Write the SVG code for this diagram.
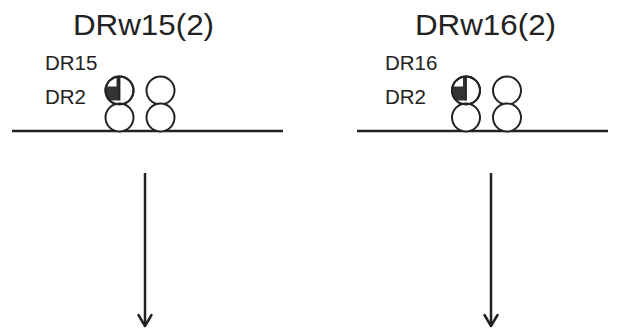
<svg xmlns="http://www.w3.org/2000/svg" width="620" height="331" viewBox="0 0 620 331">
  <style>
    .title { font-family: "Liberation Sans", Arial, sans-serif; font-size: 30px; fill: #222; }
    .label { font-family: "Liberation Sans", Arial, sans-serif; font-size: 20.5px; fill: #222; }
    .base { stroke: #222; stroke-width: 2.5; fill: none; }
    .allele { stroke: #222; stroke-width: 2; fill: #fff; }
    .mark { fill: #333; stroke: none; }
    .divider { stroke: #222; stroke-width: 1.8; }
    .conn { stroke: #222; stroke-width: 2.5; fill: none; }
    .head { stroke: #222; stroke-width: 2.5; fill: none; stroke-linecap: round; stroke-linejoin: round; }
  </style>
  <defs>
    <!-- one chromosome pair: two stacked circles, top-left one partly shaded -->
    <g id="pair">
      <circle class="allele" cx="0" cy="-13.5" r="14"/>
      <circle class="allele" cx="0" cy="13.5" r="14"/>
      <path class="mark" d="M0,-27.5 L0,-3.5 L-9.8,-3.5 A14,14 0 0 1 -13.4,-17.5 L-3,-17.5 L-3,-27.2 A14,14 0 0 1 0,-27.5 Z"/>
      <line class="divider" x1="0" y1="-27.5" x2="0" y2="-3.5"/>
      <circle cx="0" cy="-13.5" r="14" fill="none" stroke="#222" stroke-width="2"/>
      <circle class="allele" cx="41" cy="-13.5" r="14"/>
      <circle class="allele" cx="41" cy="13.5" r="14"/>
    </g>
  </defs>

  <g id="drw15">
    <text class="title" x="73" y="35" textLength="141" lengthAdjust="spacingAndGlyphs">DRw15(2)</text>
    <text class="label" x="45" y="70">DR15</text>
    <text class="label" x="45" y="104">DR2</text>
    <line class="base" x1="12" y1="131" x2="283" y2="131"/>
    <use href="#pair" x="119.5" y="104"/>
  </g>

  <g id="drw16">
    <text class="title" x="415" y="35" textLength="141" lengthAdjust="spacingAndGlyphs">DRw16(2)</text>
    <text class="label" x="385" y="70">DR16</text>
    <text class="label" x="385" y="104">DR2</text>
    <line class="base" x1="357" y1="131" x2="608" y2="131"/>
    <use href="#pair" x="466" y="104"/>
  </g>

  <g id="connectors">
    <line class="conn" x1="145" y1="173" x2="145" y2="326"/>
    <polyline class="head" points="138.5,315 145,326 151.5,315"/>
    <line class="conn" x1="491" y1="173" x2="491" y2="326"/>
    <polyline class="head" points="484.5,315 491,326 497.5,315"/>
  </g>
</svg>
